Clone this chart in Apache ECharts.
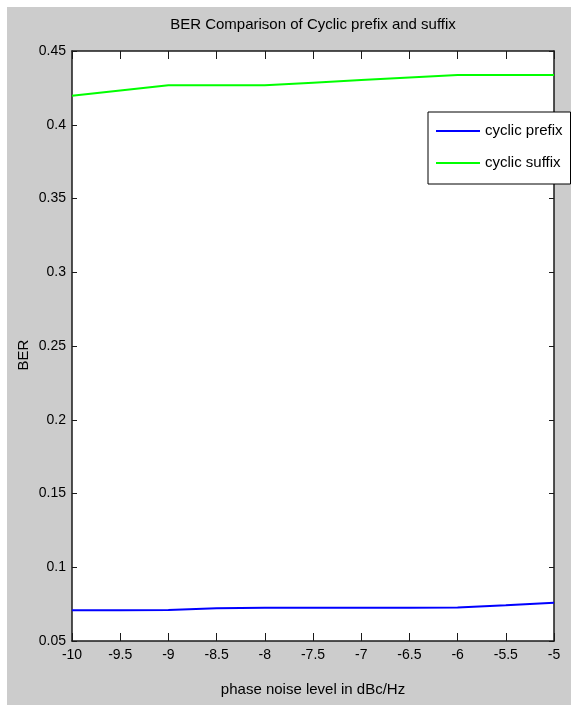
<!DOCTYPE html>
<html><head><meta charset="utf-8">
<script src="https://cdn.jsdelivr.net/npm/echarts@6/dist/echarts.min.js"></script>
<style>html,body{margin:0;padding:0;background:#fff}#c{width:571px;height:705px}</style>
</head><body><div id="c"></div>
<script>
const noiseLevels = [-10, -9.5, -9, -8.5, -8, -7.5, -7, -6.5, -6, -5.5, -5];
const prefixBER  = [0.0708, 0.0708, 0.0710, 0.0722, 0.0726, 0.0726, 0.0726, 0.0726, 0.0727, 0.0742, 0.0760];
const suffixBER  = [0.4197, 0.4233, 0.4267, 0.4267, 0.4267, 0.4285, 0.4303, 0.4320, 0.4337, 0.4337, 0.4337];
const seriesNames = ['cyclic prefix', 'cyclic suffix'];
const titleText = 'BER Comparison of Cyclic prefix and suffix';
const xName = 'phase noise level in dBc/Hz';
const yName = 'BER';

const FONT = "'Liberation Sans', Arial, sans-serif";
const chart = echarts.init(document.getElementById('c'));
const axisLineStyle = { color: '#1a1a1a', width: 1.5 };
const baseX = { type: 'value', min: -10, max: -5, interval: 0.5, splitLine: { show: false } };
const baseY = { type: 'value', min: 0.05, max: 0.45, interval: 0.05, splitLine: { show: false } };

chart.setOption({
  backgroundColor: 'transparent',
  animation: false,
  graphic: [
    { type: 'rect', z: -100, silent: true, shape: { x: 7, y: 7, width: 564, height: 698 }, style: { fill: '#cccccc' } },
    { type: 'text', z: 10, x: 313, y: 25, style: { text: titleText, fill: '#000', font: '15px ' + FONT, textAlign: 'center', textVerticalAlign: 'middle' } }
  ],
  grid: { left: 72, right: 17, top: 51, bottom: 64, show: true, backgroundColor: '#ffffff', borderWidth: 0 },
  legend: {
    orient: 'vertical', left: 428, top: 112,
    padding: [11, 8, 13, 8], itemGap: 16, itemWidth: 44, itemHeight: 2, icon: 'rect',
    backgroundColor: '#ffffff', borderColor: '#000', borderWidth: 1,
    textStyle: { fontFamily: FONT, fontSize: 15, lineHeight: 16, color: '#000' },
    data: seriesNames
  },
  xAxis: [
    Object.assign({}, baseX, {
      position: 'bottom',
      axisLine: { show: true, lineStyle: axisLineStyle },
      axisTick: { show: true, inside: true, length: 8, lineStyle: { color: '#1a1a1a' } },
      axisLabel: { show: true, color: '#000', fontFamily: FONT, fontSize: 14, margin: 7 },
      name: xName, nameLocation: 'middle', nameGap: 41, nameMoveOverlap: false,
      nameTextStyle: { color: '#000', fontFamily: FONT, fontSize: 15 }
    }),
    Object.assign({}, baseX, {
      position: 'top',
      axisLine: { show: true, lineStyle: axisLineStyle },
      axisTick: { show: true, inside: true, length: 8, lineStyle: { color: '#1a1a1a' } },
      axisLabel: { show: false }
    })
  ],
  yAxis: [
    Object.assign({}, baseY, {
      position: 'left',
      axisLine: { show: true, lineStyle: axisLineStyle },
      axisTick: { show: true, inside: true, length: 5, lineStyle: { color: '#1a1a1a' } },
      axisLabel: { show: true, color: '#000', fontFamily: FONT, fontSize: 14, margin: 6 },
      name: yName, nameLocation: 'middle', nameGap: 41, nameMoveOverlap: false,
      nameTextStyle: { color: '#000', fontFamily: FONT, fontSize: 15, padding: [0, 18, 0, 0] }
    }),
    Object.assign({}, baseY, {
      position: 'right',
      axisLine: { show: true, lineStyle: axisLineStyle },
      axisTick: { show: true, inside: true, length: 5, lineStyle: { color: '#1a1a1a' } },
      axisLabel: { show: false }
    })
  ],
  series: [
    { name: seriesNames[0], type: 'line', symbol: 'none', data: noiseLevels.map((x, i) => [x, prefixBER[i]]),
      lineStyle: { color: '#0000ff', width: 2 }, itemStyle: { color: '#0000ff' } },
    { name: seriesNames[1], type: 'line', symbol: 'none', data: noiseLevels.map((x, i) => [x, suffixBER[i]]),
      lineStyle: { color: '#00ff00', width: 2 }, itemStyle: { color: '#00ff00' } }
  ]
});
</script></body></html>
